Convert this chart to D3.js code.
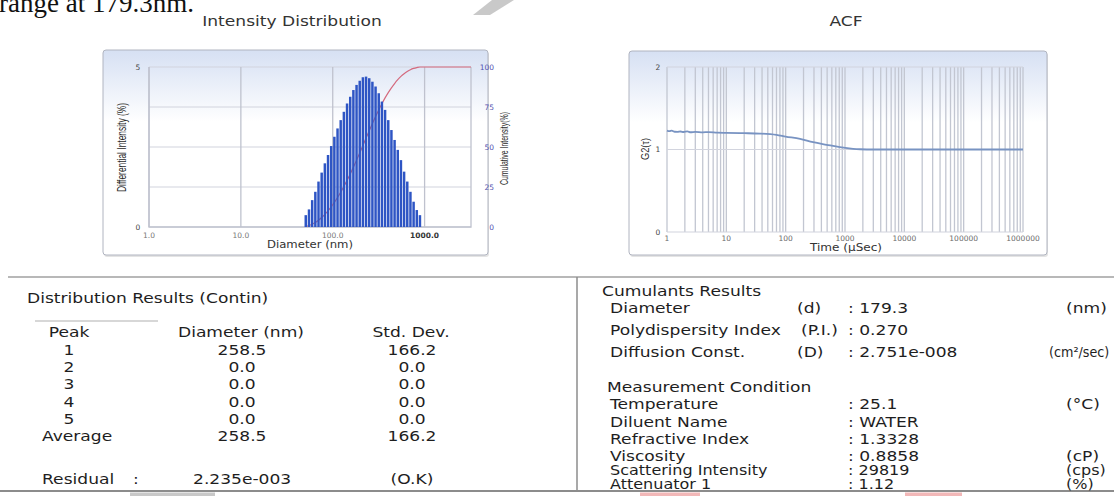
<!DOCTYPE html>
<html>
<head>
<meta charset="utf-8">
<script src="https://cdn.jsdelivr.net/npm/d3@7"></script>
<style>
  body { margin: 0; background: #fff; }
  svg { display: block; }
  .tbl text { font-family: "DejaVu Sans", Verdana, sans-serif; font-size: 14.5px; fill: #1e1e1e; }
  .tick-label { font-family: "DejaVu Sans", sans-serif; font-size: 7.5px; fill: #6a6a6a; }
</style>
</head>
<body>
<svg id="page" width="1114" height="496"></svg>
<script>
// ---- data: intensity distribution (Contin) ----
// bin centres (nm)
var diameters = [50.9, 55.2, 59.7, 64.7, 70.0, 75.8, 82.1, 88.9, 96.2, 104.2,
  112.8, 122.1, 132.2, 143.2, 155.0, 167.8, 181.7, 196.7, 213.0, 230.6,
  249.7, 270.3, 292.7, 316.8, 343.1, 371.4, 402.2, 435.4, 471.4, 510.4,
  552.6, 598.3, 647.8, 701.3, 759.3, 822.1, 890.1];
// differential intensity (%)
var intensity = [0.37, 0.55, 0.84, 1.10, 1.42, 1.70, 1.99, 2.25, 2.53, 2.82,
  3.08, 3.34, 3.60, 3.86, 4.07, 4.28, 4.44, 4.57, 4.68, 4.70,
  4.65, 4.54, 4.39, 4.18, 3.92, 3.66, 3.34, 3.03, 2.72, 2.41,
  2.09, 1.73, 1.42, 1.10, 0.79, 0.53, 0.37];
var distXTicks = [1, 10, 100, 1000];
var distXLabels = ["1.0", "10.0", "100.0", "1000.0"];
var diffTicks = [0, 5];
var cumTicks = [0, 25, 50, 75, 100];
var distXMax = 3200;

// ---- data: ACF ----
var acfTime = [1, 1.1, 1.2, 1.35, 1.5, 1.7, 1.9, 2.2, 2.5, 3, 4, 5, 7, 10, 20, 37,
  70, 100, 175, 290, 490, 820, 1370, 1800, 3000, 10000, 100000, 1000000];
var acfG2 = [1.229, 1.222, 1.228, 1.215, 1.214, 1.218, 1.212, 1.220, 1.209, 1.213,
  1.208, 1.211, 1.204, 1.201, 1.198, 1.193, 1.177, 1.157, 1.129, 1.088, 1.057,
  1.028, 1.008, 1.003, 1.0, 1.0, 1.0, 1.0];
var acfXTicks = [1, 10, 100, 1000, 10000, 100000, 1000000];
var acfYTicks = [0, 1, 2];

// ---- data: result tables ----
var peakRows = [
  ["1", "258.5", "166.2"],
  ["2", "0.0", "0.0"],
  ["3", "0.0", "0.0"],
  ["4", "0.0", "0.0"],
  ["5", "0.0", "0.0"]
];
var averageRow = ["Average", "258.5", "166.2"];
var residualRow = ["Residual", ":", "2.235e-003", "(O.K)"];
var cumulantRows = [
  ["Diameter", "(d)", ": 179.3", "(nm)"],
  ["Polydispersity Index", "(P.I.)", ": 0.270", ""],
  ["Diffusion Const.", "(D)", ": 2.751e-008", "(cm\u00b2/sec)"]
];
var conditionRows = [
  ["Temperature", ": 25.1", "(\u00b0C)"],
  ["Diluent Name", ": WATER", ""],
  ["Refractive Index", ": 1.3328", ""],
  ["Viscosity", ": 0.8858", "(cP)"],
  ["Scattering Intensity", ": 29819", "(cps)"],
  ["Attenuator 1", ": 1.12", "(%)"]
];

// the source screenshot is stretched sideways a bit
var stretch = 1.18;

var svg = d3.select("#page");

// gradient used by both chart panels
var defs = svg.append("defs");
var grad = defs.append("linearGradient")
  .attr("id", "panelGrad")
  .attr("x1", 0).attr("y1", 0).attr("x2", 0).attr("y2", 1);
grad.append("stop").attr("offset", "0%").attr("stop-color", "#d6e0f3");
grad.append("stop").attr("offset", "35%").attr("stop-color", "#ffffff");
grad.append("stop").attr("offset", "100%").attr("stop-color", "#ffffff");

// cut-off text of the surrounding document + watermark bits
svg.append("text")
  .attr("x", -1).attr("y", 12)
  .style("font-family", "'Liberation Serif', serif")
  .style("font-size", "27px")
  .style("fill", "#111")
  .text("range at 179.3nm.");
svg.append("path")
  .attr("d", "M492,0L514,0L490,15L473,15Z")
  .style("fill", "#c9c9c9");

function panel(x, y, w, h) {
  svg.append("rect")
    .attr("x", x + 1).attr("y", y + 2)
    .attr("width", w).attr("height", h)
    .attr("rx", 3)
    .style("fill", "#e4e4e4");
  svg.append("rect")
    .attr("x", x).attr("y", y)
    .attr("width", w).attr("height", h)
    .attr("rx", 3)
    .style("fill", "url(#panelGrad)")
    .style("stroke", "#b0b4c0")
    .style("stroke-width", 1);
}

function title(x, y, txt) {
  svg.append("text")
    .attr("transform", "translate(" + x + "," + y + ") scale(1.24,1)")
    .attr("text-anchor", "middle")
    .style("font-family", "'DejaVu Sans', Verdana, sans-serif")
    .style("font-size", "13.8px")
    .style("fill", "#333")
    .text(txt);
}

// =========================================================
// Intensity distribution
// =========================================================
title(292, 26, "Intensity Distribution");
panel(103, 50, 385, 205);

var dx = d3.scaleLog().domain([1, distXMax]).range([149, 471]);
var dy = d3.scaleLinear().domain([0, 5]).range([227, 67]);
var cy = d3.scaleLinear().domain([0, 100]).range([227, 67]);

var dist = svg.append("g");

// horizontal grid, one line per cumulative tick
dist.selectAll(".hgrid")
  .data(cumTicks)
  .enter().append("line")
  .attr("x1", dx(1)).attr("x2", dx(distXMax))
  .attr("y1", function(d) { return cy(d); })
  .attr("y2", function(d) { return cy(d); })
  .style("stroke", "#d2d4de").style("stroke-width", 1.1);

// vertical grid at the decades
dist.selectAll(".vgrid")
  .data(distXTicks)
  .enter().append("line")
  .attr("x1", function(d) { return dx(d); })
  .attr("x2", function(d) { return dx(d); })
  .attr("y1", dy(0)).attr("y2", dy(5))
  .style("stroke", "#bfc2ce").style("stroke-width", 1.3);

// plot frame: left, bottom, right
dist.append("path")
  .attr("d", "M" + dx(1) + "," + dy(5) + "V" + dy(0) + "H" + dx(distXMax) + "V" + dy(5))
  .style("fill", "none").style("stroke", "#bfc2ce").style("stroke-width", 1.3);

// cumulative curve (drawn first, bars sit on top of it)
var cum = d3.cumsum(intensity);
var total = cum[cum.length - 1];
var cumPts = diameters.map(function(d, i) { return [d, cum[i] / total * 100]; });
cumPts.push([distXMax, 100]);
dist.append("path")
  .datum(cumPts)
  .attr("d", d3.line()
    .x(function(d) { return dx(d[0]); })
    .y(function(d) { return cy(d[1]); })
    .curve(d3.curveMonotoneX))
  .style("fill", "none")
  .style("stroke", "#d46a7e")
  .style("stroke-width", 1.2);

// bars - each bin spans half way to its neighbours on the log axis
function binEdge(i) {
  var n = diameters.length;
  if (i <= 0) return diameters[0] * Math.sqrt(diameters[0] / diameters[1]);
  if (i >= n) return diameters[n - 1] * Math.sqrt(diameters[n - 1] / diameters[n - 2]);
  return Math.sqrt(diameters[i - 1] * diameters[i]);
}
dist.selectAll(".bar")
  .data(intensity)
  .enter().append("rect")
  .attr("x", function(d, i) { return dx(binEdge(i)) + 0.35; })
  .attr("width", function(d, i) { return dx(binEdge(i + 1)) - dx(binEdge(i)) - 0.7; })
  .attr("y", function(d) { return dy(d); })
  .attr("height", function(d) { return dy(0) - dy(d); })
  .style("fill", "#2e55c4");

// tick labels
dist.selectAll(".xl")
  .data(distXTicks)
  .enter().append("text")
  .attr("class", "tick-label")
  .attr("x", function(d) { return dx(d); })
  .attr("y", 238)
  .attr("text-anchor", "middle")
  .style("font-weight", function(d, i) { return i == distXTicks.length - 1 ? "bold" : "normal"; })
  .style("fill", function(d, i) { return i == distXTicks.length - 1 ? "#333" : "#777"; })
  .text(function(d, i) { return distXLabels[i]; });

dist.selectAll(".yl")
  .data(diffTicks)
  .enter().append("text")
  .attr("class", "tick-label")
  .attr("x", 138)
  .attr("y", function(d) { return dy(d) + 2.5; })
  .attr("text-anchor", "middle")
  .style("fill", "#444")
  .text(function(d) { return d; });

dist.selectAll(".cl")
  .data(cumTicks)
  .enter().append("text")
  .attr("class", "tick-label")
  .attr("x", 494)
  .attr("y", function(d) { return cy(d) + 2.5; })
  .attr("text-anchor", "end")
  .style("fill", "#5252b0")
  .text(function(d) { return d; });

dist.append("text")
  .attr("x", 310).attr("y", 248)
  .attr("text-anchor", "middle")
  .attr("textLength", 86).attr("lengthAdjust", "spacingAndGlyphs")
  .style("font-family", "'DejaVu Sans', Verdana, sans-serif")
  .style("font-size", "11px")
  .style("fill", "#333")
  .text("Diameter (nm)");

dist.append("text")
  .attr("transform", "translate(126,147.5) rotate(-90)")
  .attr("text-anchor", "middle")
  .attr("textLength", 89).attr("lengthAdjust", "spacingAndGlyphs")
  .style("font-family", "'Liberation Sans Narrow', 'Liberation Sans', sans-serif")
  .style("font-size", "12px")
  .style("fill", "#2a2a2a")
  .text("Differential Intensity (%)");

dist.append("text")
  .attr("transform", "translate(508,148.5) rotate(-90)")
  .attr("text-anchor", "middle")
  .attr("textLength", 73).attr("lengthAdjust", "spacingAndGlyphs")
  .style("font-family", "'Liberation Sans Narrow', 'Liberation Sans', sans-serif")
  .style("font-size", "10.5px")
  .style("fill", "#2a2a2a")
  .text("Cumulative Intensity(%)");

// =========================================================
// ACF
// =========================================================
title(846, 26, "ACF");
panel(629, 51, 418, 204);

var ax = d3.scaleLog().domain([1, 1e6]).range([667, 1023]);
var ay = d3.scaleLinear().domain([0, 2]).range([232, 67]);

var acf = svg.append("g");

// minor + major vertical grid (1..9 x 10^n)
acf.selectAll(".vgrid")
  .data(ax.ticks())
  .enter().append("line")
  .attr("x1", function(d) { return ax(d); })
  .attr("x2", function(d) { return ax(d); })
  .attr("y1", ay(0)).attr("y2", ay(2))
  .style("stroke", "#c2c6d1").style("stroke-width", 1.3);

acf.selectAll(".hgrid")
  .data(acfYTicks)
  .enter().append("line")
  .attr("x1", ax(1)).attr("x2", ax(1e6))
  .attr("y1", function(d) { return ay(d); })
  .attr("y2", function(d) { return ay(d); })
  .style("stroke", "#d2d4de").style("stroke-width", 1.1);

acf.append("path")
  .datum(d3.zip(acfTime, acfG2))
  .attr("d", d3.line()
    .x(function(d) { return ax(d[0]); })
    .y(function(d) { return ay(d[1]); })
    .curve(d3.curveMonotoneX))
  .style("fill", "none")
  .style("stroke", "#7893c2")
  .style("stroke-width", 1.8);

acf.selectAll(".xl")
  .data(acfXTicks)
  .enter().append("text")
  .attr("class", "tick-label")
  .attr("x", function(d) { return ax(d); })
  .attr("y", 240.5)
  .attr("text-anchor", "middle")
  .text(function(d) { return d; });

acf.selectAll(".yl")
  .data(acfYTicks)
  .enter().append("text")
  .attr("class", "tick-label")
  .attr("x", 658)
  .attr("y", function(d) { return ay(d) + 2.5; })
  .attr("text-anchor", "middle")
  .style("fill", "#444")
  .text(function(d) { return d; });

acf.append("text")
  .attr("x", 846).attr("y", 251)
  .attr("text-anchor", "middle")
  .attr("textLength", 72).attr("lengthAdjust", "spacingAndGlyphs")
  .style("font-family", "'DejaVu Sans', Verdana, sans-serif")
  .style("font-size", "11px")
  .style("fill", "#333")
  .text("Time (\u00b5Sec)");

acf.append("text")
  .attr("transform", "translate(649,149) rotate(-90)")
  .attr("text-anchor", "middle")
  .attr("textLength", 22).attr("lengthAdjust", "spacingAndGlyphs")
  .style("font-family", "'Liberation Sans Narrow', 'Liberation Sans', sans-serif")
  .style("font-size", "11px")
  .style("fill", "#2a2a2a")
  .text("G2(\u03c4)");

// =========================================================
// result tables
// =========================================================
var tbl = svg.append("g").attr("class", "tbl");

tbl.append("line").attr("x1", 8).attr("x2", 1114).attr("y1", 277).attr("y2", 277)
  .style("stroke", "#a0a0a0").style("stroke-width", 1.5);
tbl.append("line").attr("x1", 0).attr("x2", 1114).attr("y1", 491).attr("y2", 491)
  .style("stroke", "#8c8c8c").style("stroke-width", 2);
tbl.append("line").attr("x1", 577).attr("x2", 577).attr("y1", 277).attr("y2", 491)
  .style("stroke", "#8c8c8c").style("stroke-width", 1.5);
tbl.append("line").attr("x1", 35).attr("x2", 158).attr("y1", 321).attr("y2", 321)
  .style("stroke", "#b0b0b0").style("stroke-width", 1.2);

// watermark scraps below the table frame
var scraps = [[130, 215, "#c8c8c8"], [640, 700, "#f2b8b8"], [905, 962, "#f2b8b8"]];
scraps.forEach(function(s) {
  svg.append("rect").attr("x", s[0]).attr("y", 492.5)
    .attr("width", s[1] - s[0]).attr("height", 4)
    .style("fill", s[2]);
});

function put(x, y, txt, anchor, sx, size) {
  var t = tbl.append("text")
    .attr("transform", "translate(" + x + "," + y + ") scale(" + (sx || stretch) + ",1)")
    .attr("dy", "0.36em")
    .attr("text-anchor", anchor || "start")
    .text(txt);
  if (size) t.style("font-size", size + "px");
}

// left: distribution results
put(27, 298, "Distribution Results (Contin)");
put(69, 332, "Peak", "middle");
put(241, 332, "Diameter (nm)", "middle");
put(411, 332, "Std. Dev.", "middle");
var rowY = d3.scaleLinear().domain([0, 1]).range([349.5, 366.8]);
peakRows.forEach(function(r, i) {
  put(69, rowY(i), r[0], "middle");
  put(242, rowY(i), r[1], "middle");
  put(412, rowY(i), r[2], "middle");
});
put(42, rowY(peakRows.length), averageRow[0]);
put(242, rowY(peakRows.length), averageRow[1], "middle");
put(412, rowY(peakRows.length), averageRow[2], "middle");
put(42, 479, residualRow[0]);
put(136, 479, residualRow[1], "middle");
put(193, 479, residualRow[2]);
put(412, 479, residualRow[3], "middle");

// right: cumulants + measurement condition
put(602, 291, "Cumulants Results");
var cumY = [308, 329.5, 351.5];
cumulantRows.forEach(function(r, i) {
  put(610, cumY[i], r[0]);
  put(i == 1 ? 801 : 797, cumY[i], r[1]);
  put(848, cumY[i], r[2]);
  // the long unit is squeezed so it stays inside the page edge
  if (r[3].length > 5) put(1049, cumY[i], r[3], "start", 0.88);
  else put(1066, cumY[i], r[3]);
});
put(607, 387, "Measurement Condition");
var condY = [404, 421.5, 438.5, 455.5, 470.5, 484];
conditionRows.forEach(function(r, i) {
  // the last two rows sit tighter in the source
  var sz = i >= 4 ? 13.6 : null;
  put(610, condY[i], r[0], "start", null, sz);
  put(848, condY[i], r[1], "start", null, sz);
  put(1066, condY[i], r[2], "start", null, sz);
});
</script>
</body>
</html>
